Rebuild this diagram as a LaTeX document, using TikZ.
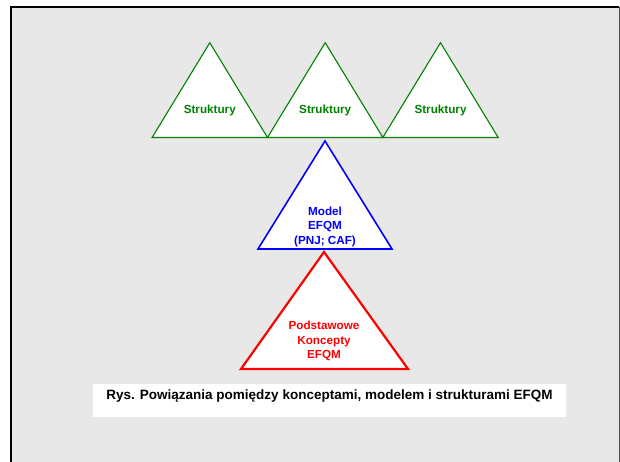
\documentclass[tikz,border=0pt]{standalone}
\usepackage{fontspec}
\setmainfont{Liberation Sans}
\usetikzlibrary{positioning,calc}

\definecolor{panel}{HTML}{E8E8E8}
\definecolor{strukgreen}{HTML}{008000}
\definecolor{modelblue}{HTML}{0000FF}
\definecolor{konceptred}{HTML}{FF0000}

\tikzset{
   tri/.style={fill=white, line join=miter},
   lbl/.style={font=\bfseries\fontsize{11.7}{14.5}\selectfont, align=center,
      inner sep=0pt},
}

\begin{document}
\begin{tikzpicture}[x=1pt,y=1pt]
   \useasboundingbox (0,0) rectangle (620,461);

   % slide background and frame
   \fill[panel] (11,454) rectangle (619,-10);
   \draw[line width=2.5pt] (11,-10) -- (11,454) -- (619,454);
   \draw[line width=1.5pt, black!70] (619.5,454) -- (619.5,-10);

   % Struktury
   \foreach \i/\x in {1/209.8,2/325.2,3/440.5}{
      \coordinate (s\i) at (\x,418.3);
      \draw[tri, draw=strukgreen, line width=1.1pt]
         (s\i) -- ++(57.7,-94.8) -- ++(-115.4,0) -- cycle;
      \node[lbl, text=strukgreen, below=61.8pt of s\i] (struk\i) {Struktury};
   }

   % Model
   \coordinate (m0) at (325,320);
   \coordinate (m1) at (258,212);
   \coordinate (m2) at (392,212);
   \draw[tri, draw=modelblue, line width=1.6pt] (m0) -- (m2) -- (m1) -- cycle;
   \node[lbl, text=modelblue] (model) at (325,234.5)
      {Model\\EFQM\\(PNJ; CAF)};

   % Podstawowe koncepty
   \coordinate (k0) at (324,209);
   \coordinate (k1) at (241,92);
   \coordinate (k2) at (408,92);
   \draw[tri, draw=konceptred, line width=2.2pt] (k0) -- (k2) -- (k1) -- cycle;
   \node[lbl, text=konceptred] (koncept) at (324,120)
      {Podstawowe\\Koncepty\\EFQM};

   % caption
   \node[fill=white, minimum width=473pt, minimum height=33pt, inner sep=0pt]
      (captbox) at (329.5,60.5) {};
   \node[font=\bfseries\fontsize{13.5}{16}\selectfont, inner sep=0pt]
      (capt) at ($(captbox.center)+(0,4.5)$)
      {Rys. Powiązania pomiędzy konceptami, modelem i strukturami EFQM};
\end{tikzpicture}
\end{document}
